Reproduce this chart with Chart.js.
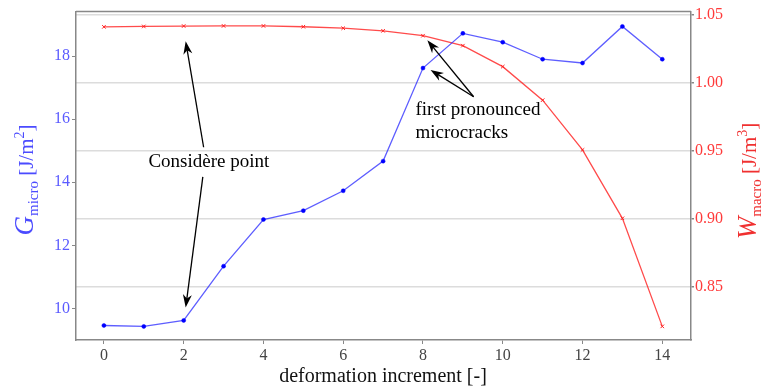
<!DOCTYPE html>
<html>
<head>
    <title>G micro vs W macro</title>
    <script src="https://cdn.jsdelivr.net/npm/chart.js"></script>
    <style>
        body { margin: 0; padding: 0; background: white; }
        #wrap { width: 763px; height: 389px; }
    </style>
</head>
<body>
    <div id="wrap"><canvas id="chart" width="763" height="389"></canvas></div>
    <script>
        const increments = [0, 1, 2, 3, 4, 5, 6, 7, 8, 9, 10, 11, 12, 13, 14];
        const gMicro = [9.46, 9.43, 9.62, 11.34, 12.82, 13.10, 13.73, 14.67, 17.62, 18.72, 18.44, 17.90, 17.78, 18.94, 17.90];
        const wMacro = [1.0408, 1.0411, 1.0414, 1.0415, 1.0415, 1.0409, 1.0398, 1.0379, 1.0343, 1.0270, 1.0116, 0.9870, 0.9505, 0.9003, 0.8210];
        const xTicks = [0, 2, 4, 6, 8, 10, 12, 14];
        const leftTicks = [10, 12, 14, 16, 18];
        const rightTicks = [0.85, 0.90, 0.95, 1.00, 1.05];

        // annotations in data units (x, left axis y)
        const considereText = { x: 2.63, y: 14.64, lines: ['Considère point'] };
        const considereArrows = [
            [2.5, 15.11, 2.05, 18.47],
            [2.48, 14.17, 2.05, 10.03]
        ];
        const crackText = { x: 7.81, y: 16.30, lines: ['first pronounced', 'microcracks'] };
        const crackArrows = [
            [9.27, 16.71, 8.11, 18.50],
            [9.27, 16.71, 8.19, 17.56]
        ];

        const SERIF = '"Liberation Serif", "DejaVu Serif", serif';
        const GRAY = '#888888';

        function drawArrow(ctx, x0, y0, x1, y1) {
            const ang = Math.atan2(y1 - y0, x1 - x0);
            const len = 13, half = 4.5;
            ctx.save();
            ctx.strokeStyle = '#000';
            ctx.fillStyle = '#000';
            ctx.lineWidth = 1.3;
            ctx.beginPath();
            ctx.moveTo(x0, y0);
            ctx.lineTo(x1 - Math.cos(ang) * 6, y1 - Math.sin(ang) * 6);
            ctx.stroke();
            ctx.translate(x1, y1);
            ctx.rotate(ang);
            ctx.beginPath();
            ctx.moveTo(0, 0);
            ctx.lineTo(-len, -half);
            ctx.lineTo(-len + 4, 0);
            ctx.lineTo(-len, half);
            ctx.closePath();
            ctx.fill();
            ctx.restore();
        }

        // draws a rotated title from pieces [text, font, dy]
        function drawRich(ctx, cx, cy, pieces, color) {
            ctx.save();
            ctx.translate(cx, cy);
            ctx.rotate(-Math.PI / 2);
            ctx.fillStyle = color;
            ctx.textBaseline = 'alphabetic';
            let total = 0;
            pieces.forEach(p => { ctx.font = p[1]; total += ctx.measureText(p[0]).width; });
            let x = -total / 2;
            pieces.forEach(p => {
                ctx.font = p[1];
                ctx.fillText(p[0], x, 8 + p[2]);
                x += ctx.measureText(p[0]).width;
            });
            ctx.restore();
        }

        const decorPlugin = {
            id: 'decor',
            afterDatasetsDraw(chart) {
                const ctx = chart.ctx;
                const sx = chart.scales.x, sy = chart.scales.yL;
                const a = chart.chartArea;

                // top frame line
                ctx.save();
                ctx.strokeStyle = GRAY;
                ctx.lineWidth = 1.5;
                ctx.beginPath();
                ctx.moveTo(a.left, a.top);
                ctx.lineTo(a.right, a.top);
                ctx.stroke();
                ctx.restore();

                considereArrows.concat(crackArrows).forEach(r => {
                    drawArrow(ctx, sx.getPixelForValue(r[0]), sy.getPixelForValue(r[1]),
                        sx.getPixelForValue(r[2]), sy.getPixelForValue(r[3]));
                });

                ctx.save();
                ctx.fillStyle = '#000';
                ctx.font = '19px ' + SERIF;
                ctx.textBaseline = 'middle';
                ctx.textAlign = 'center';
                ctx.fillText(considereText.lines[0], sx.getPixelForValue(considereText.x), sy.getPixelForValue(considereText.y));
                ctx.textAlign = 'left';
                crackText.lines.forEach((t, i) => {
                    ctx.fillText(t, sx.getPixelForValue(crackText.x), sy.getPixelForValue(crackText.y) + i * 23);
                });
                ctx.restore();
            },
            afterDraw(chart) {
                const ctx = chart.ctx;
                drawRich(ctx, 25, 180, [
                    ['G', 'italic 27px ' + SERIF, 0],
                    ['micro', '15px ' + SERIF, 5],
                    [' [J/m', '21px ' + SERIF, 0],
                    ['2', '14px ' + SERIF, -9],
                    [']', '21px ' + SERIF, 0]
                ], '#4b4bff');
                drawRich(ctx, 748, 181, [
                    ['W', 'italic 27px ' + SERIF, 0],
                    ['macro', '15px ' + SERIF, 5],
                    [' [J/m', '21px ' + SERIF, 0],
                    ['3', '14px ' + SERIF, -9],
                    [']', '21px ' + SERIF, 0]
                ], '#f03030');
                ctx.save();
                ctx.fillStyle = '#111';
                ctx.font = '20px ' + SERIF;
                ctx.textAlign = 'center';
                ctx.textBaseline = 'middle';
                ctx.fillText('deformation increment [-]', 383, 377);
                ctx.restore();
            }
        };

        new Chart(document.getElementById('chart'), {
            type: 'line',
            data: {
                datasets: [{
                    label: 'G micro',
                    data: increments.map((x, i) => ({ x: x, y: gMicro[i] })),
                    yAxisID: 'yL',
                    borderColor: 'rgba(40,40,255,0.75)',
                    backgroundColor: '#0000ff',
                    pointBorderColor: '#0000ff',
                    borderWidth: 1.3,
                    pointRadius: 2,
                    pointBorderWidth: 0.5,
                    pointStyle: 'circle',
                    tension: 0
                }, {
                    label: 'W macro',
                    data: increments.map((x, i) => ({ x: x, y: wMacro[i] })),
                    yAxisID: 'yR',
                    borderColor: 'rgba(255,30,30,0.8)',
                    pointBorderColor: '#ff2020',
                    backgroundColor: '#ff2020',
                    borderWidth: 1.3,
                    pointRadius: 2.5,
                    pointBorderWidth: 1,
                    pointStyle: 'crossRot',
                    tension: 0
                }]
            },
            options: {
                responsive: false,
                animation: false,
                layout: { padding: { top: 8, left: 0, right: 0, bottom: 0 } },
                plugins: {
                    legend: { display: false },
                    tooltip: { enabled: false }
                },
                scales: {
                    x: {
                        type: 'linear',
                        min: -0.7,
                        max: 14.72,
                        afterBuildTicks: s => { s.ticks = xTicks.map(v => ({ value: v })); },
                        afterFit: s => { s.height = 49; },
                        ticks: { color: '#444', font: { family: SERIF, size: 16 }, padding: 2 },
                        grid: { drawOnChartArea: false, tickLength: 4, tickColor: GRAY, lineWidth: 1 },
                        border: { color: GRAY, width: 1.5 }
                    },
                    yL: {
                        type: 'linear',
                        position: 'left',
                        min: 9.0,
                        max: 19.41,
                        afterBuildTicks: s => { s.ticks = leftTicks.map(v => ({ value: v })); },
                        afterFit: s => { s.width = 76; },
                        ticks: { color: '#5a5aff', font: { family: SERIF, size: 16 }, padding: 2 },
                        grid: { drawOnChartArea: false, tickLength: 4, tickColor: GRAY },
                        border: { color: GRAY, width: 1.5 }
                    },
                    yR: {
                        type: 'linear',
                        position: 'right',
                        min: 0.811,
                        max: 1.052,
                        afterBuildTicks: s => { s.ticks = rightTicks.map(v => ({ value: v })); },
                        afterFit: s => { s.width = 72; },
                        ticks: {
                            color: '#ff3a3a',
                            font: { family: SERIF, size: 16 },
                            padding: 1,
                            callback: v => v.toFixed(2)
                        },
                        grid: { color: '#dcdcdc', lineWidth: 1.5, tickLength: 3, tickColor: GRAY },
                        border: { color: GRAY, width: 1.5 }
                    }
                }
            },
            plugins: [decorPlugin]
        });
    </script>
</body>
</html>
